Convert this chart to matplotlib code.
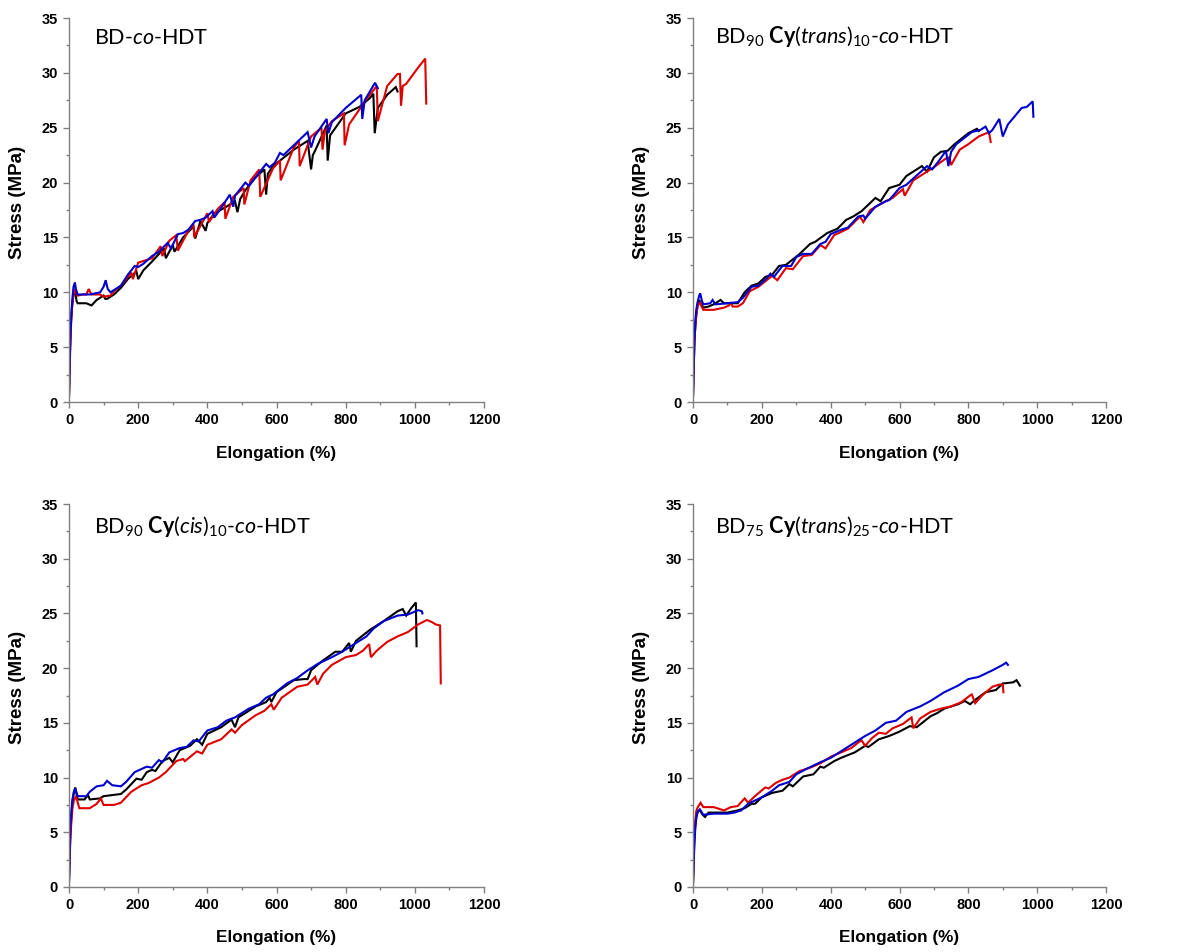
import matplotlib
matplotlib.use("Agg")
import matplotlib.pyplot as plt
from matplotlib.ticker import MultipleLocator
from matplotlib import font_manager

plt.rcParams['mathtext.fontset'] = 'custom'
plt.rcParams['mathtext.rm'] = 'Lato'
plt.rcParams['mathtext.it'] = 'Lato:italic'
plt.rcParams['mathtext.bf'] = 'Lato:bold'

_names = {f.name for f in font_manager.fontManager.ttflist}
if "Liberation Sans Narrow" in _names:
    TICK_FAMILY, TICK_SIZE = "Liberation Sans Narrow", 11
else:
    TICK_FAMILY, TICK_SIZE = "Liberation Sans", 10.5

# ---------------- data ----------------
titles = [r"BD-$\mathit{co}$-HDT",
          r"BD$_{90}$ $\mathbf{Cy}$($\mathit{trans}$)$_{10}$-$\mathit{co}$-HDT",
          r"BD$_{90}$ $\mathbf{Cy}$($\mathit{cis}$)$_{10}$-$\mathit{co}$-HDT",
          r"BD$_{75}$ $\mathbf{Cy}$($\mathit{trans}$)$_{25}$-$\mathit{co}$-HDT"]
x_ticks = [0, 200, 400, 600, 800, 1000, 1200]
y_ticks = [0, 5, 10, 15, 20, 25, 30, 35]
x_label = "Elongation (%)"
y_label = "Stress (MPa)"

# Panel 1: BD-co-HDT
p1_black_x = [0, 2, 4, 6, 9, 12, 15, 18, 22, 25,
              40, 50, 65, 80, 100, 105, 110, 130, 150, 170,
              195, 200, 215, 240, 275, 280, 300, 305, 330, 360,
              365, 380, 395, 400, 420, 450, 480, 487, 495, 510,
              540, 565, 570, 575, 590, 610, 650, 690, 700, 705,
              710, 745, 748, 755, 800, 840, 870, 880, 884, 893,
              920, 945, 950]
p1_black_y = [0.5, 3.5, 6.0, 7.5, 8.8, 9.6, 10.3, 10.0, 9.2, 9.0,
              9.0, 9.0, 8.8, 9.3, 9.7, 9.4, 9.4, 9.8, 10.4, 11.2,
              11.9, 11.2, 12.0, 12.8, 14.0, 13.1, 14.3, 13.7, 15.0, 16.0,
              14.9, 16.5, 15.6, 16.3, 17.2, 17.7, 18.3, 17.3, 18.5, 19.3,
              20.5, 21.2, 18.9, 20.8, 21.5, 22.0, 23.0, 23.8, 21.2, 22.5,
              22.8, 25.2, 22.0, 24.3, 26.3, 26.9, 27.7, 28.1, 24.5, 26.8,
              28.0, 28.7, 28.3]
p1_red_x = [0, 2, 4, 7, 10, 13, 16, 20, 25, 40,
            50, 57, 65, 90, 100, 120, 130, 150, 180, 185,
            200, 240, 265, 270, 290, 310, 315, 345, 360, 362,
            400, 405, 430, 450, 452, 475, 505, 507, 525, 550,
            553, 590, 610, 612, 650, 665, 667, 700, 730, 733,
            740, 760, 795, 797, 810, 860, 890, 893, 920, 950,
            957, 960, 965, 975, 1010, 1030, 1033]
p1_red_y = [0.5, 3.0, 5.5, 7.8, 9.0, 9.8, 10.3, 10.0, 9.7, 9.8,
            9.8, 10.3, 9.8, 9.8, 9.6, 9.7, 10.1, 10.6, 11.8, 11.2,
            12.7, 13.1, 14.2, 13.3, 14.7, 15.2, 13.8, 15.6, 16.2, 15.0,
            17.2, 16.4, 17.6, 18.2, 16.7, 18.7, 19.5, 18.0, 20.2, 21.2,
            18.7, 21.3, 22.0, 20.2, 23.2, 23.8, 21.5, 24.2, 25.0, 23.0,
            24.7, 25.6, 26.3, 23.4, 25.3, 27.6, 28.8, 25.6, 28.8, 29.9,
            29.9, 27.0, 28.8, 29.0, 30.5, 31.3, 27.2]
p1_blue_x = [0, 2, 4, 7, 10, 13, 17, 20, 25, 40,
             60, 90, 100, 106, 112, 120, 150, 170, 190, 200,
             215, 240, 260, 285, 295, 315, 330, 345, 365, 380,
             395, 415, 420, 440, 465, 475, 480, 510, 520, 550,
             570, 580, 595, 610, 620, 650, 690, 700, 710, 745,
             750, 760, 800, 845, 848, 855, 885, 893]
p1_blue_y = [0.5, 3.5, 6.0, 8.0, 9.5, 10.5, 10.9, 10.3, 9.8, 9.8,
             9.8, 10.0, 10.5, 11.1, 10.3, 10.0, 10.6, 11.6, 12.4, 12.3,
             12.6, 13.3, 13.7, 14.5, 14.0, 15.3, 15.4, 15.7, 16.5, 16.6,
             16.8, 17.4, 16.8, 17.7, 18.9, 17.8, 18.8, 20.0, 19.7, 20.9,
             21.7, 21.4, 21.8, 22.7, 22.5, 23.4, 24.6, 23.2, 24.2, 25.8,
             24.5, 25.5, 26.8, 28.0, 25.8, 27.5, 29.1, 28.6]

# Panel 2: BD90 Cy(trans)10-co-HDT
p2_black_x = [0, 2, 4, 7, 10, 14, 18, 22, 30, 45,
              60, 80, 90, 130, 150, 170, 190, 210, 230, 250,
              270, 290, 310, 340, 355, 390, 420, 445, 465, 490,
              530, 545, 570, 600, 620, 665, 680, 700, 720, 740,
              760, 800, 825, 830]
p2_black_y = [0.5, 3.0, 5.5, 7.0, 8.2, 9.0, 9.3, 9.0, 8.6, 8.7,
              8.9, 9.3, 9.0, 9.0, 10.0, 10.6, 10.8, 11.4, 11.6, 12.4,
              12.5, 13.0, 13.5, 14.4, 14.6, 15.4, 15.8, 16.6, 16.9, 17.4,
              18.6, 18.3, 19.5, 19.8, 20.6, 21.5, 21.0, 22.3, 22.8, 22.9,
              23.5, 24.5, 24.9, 24.7]
p2_red_x = [0, 2, 4, 7, 10, 14, 20, 25, 30, 60,
            90, 105, 110, 115, 130, 145, 165, 190, 210, 230,
            245, 270, 290, 320, 345, 370, 385, 410, 450, 485,
            495, 515, 560, 580, 610, 615, 640, 670, 700, 735,
            745, 750, 775, 800, 830, 860, 865]
p2_red_y = [0.5, 3.0, 5.5, 7.0, 8.0, 8.8, 9.1, 8.7, 8.4, 8.4,
            8.6, 8.8, 9.1, 8.7, 8.7, 9.0, 10.1, 10.5, 11.0, 11.5,
            11.1, 12.2, 12.1, 13.3, 13.4, 14.3, 14.0, 15.2, 15.8, 16.9,
            16.4, 17.5, 18.3, 18.6, 19.4, 18.8, 20.2, 20.8, 21.4, 22.2,
            22.3, 21.6, 23.0, 23.5, 24.2, 24.6, 23.7]
p2_blue_x = [0, 2, 4, 7, 10, 14, 18, 21, 26, 30,
             50, 57, 65, 100, 130, 145, 170, 190, 215, 225,
             235, 260, 285, 300, 320, 345, 370, 385, 400, 430,
             450, 480, 495, 500, 530, 560, 570, 600, 620, 680,
             695, 715, 735, 742, 750, 765, 810, 835, 850, 860,
             870, 890, 900, 915, 955, 970, 987, 989]
p2_blue_y = [0.5, 3.0, 5.5, 7.5, 8.5, 9.2, 9.7, 9.9, 9.2, 8.9,
             9.0, 9.3, 8.9, 9.0, 9.1, 9.5, 10.5, 10.6, 11.3, 11.7,
             11.4, 12.4, 12.4, 13.2, 13.5, 13.5, 14.4, 14.6, 15.3, 15.7,
             15.9, 16.9, 17.0, 16.7, 17.8, 18.3, 18.4, 19.5, 19.8, 21.5,
             21.2, 22.0, 22.9, 21.5, 22.8, 23.5, 24.6, 24.8, 25.1, 24.5,
             24.8, 25.8, 24.2, 25.3, 26.8, 26.9, 27.4, 26.0]

# Panel 3: BD90 Cy(cis)10-co-HDT
p3_black_x = [0, 2, 4, 7, 10, 14, 18, 25, 45, 55,
              60, 90, 100, 150, 165, 195, 210, 225, 240, 250,
              270, 290, 300, 320, 350, 370, 385, 400, 440, 470,
              480, 490, 540, 570, 580, 585, 600, 650, 680, 690,
              700, 730, 770, 790, 810, 815, 830, 870, 910, 950,
              965, 975, 990, 1003, 1005]
p3_black_y = [0.5, 3.0, 5.0, 6.5, 7.8, 8.6, 9.1, 8.0, 8.0, 8.4,
              8.0, 8.1, 8.3, 8.5, 8.9, 9.9, 9.8, 10.5, 10.7, 10.6,
              11.5, 11.8, 11.4, 12.5, 12.9, 13.5, 13.0, 14.0, 14.6, 15.3,
              14.6, 15.5, 16.5, 16.9, 17.3, 16.9, 17.8, 18.9, 19.0, 19.0,
              19.8, 20.6, 21.5, 21.5, 22.3, 21.5, 22.5, 23.5, 24.3, 25.2,
              25.4, 24.8, 25.5, 26.0, 22.0]
p3_red_x = [0, 2, 4, 7, 10, 14, 20, 30, 60, 80,
            92, 100, 130, 150, 180, 210, 230, 260, 280, 310,
            330, 335, 370, 385, 400, 440, 470, 480, 500, 540,
            565, 585, 592, 615, 660, 690, 712, 718, 735, 760,
            800, 830, 850, 868, 873, 890, 920, 950, 980, 1010,
            1035, 1050, 1060, 1073, 1075]
p3_red_y = [0.5, 2.5, 4.5, 6.0, 7.2, 7.9, 8.3, 7.2, 7.2, 7.6,
            8.1, 7.5, 7.5, 7.7, 8.7, 9.3, 9.5, 10.0, 10.5, 11.5,
            11.7, 11.5, 12.4, 12.2, 13.0, 13.5, 14.4, 14.1, 14.8, 15.7,
            16.1, 16.7, 16.2, 17.3, 18.3, 18.5, 19.2, 18.5, 19.5, 20.3,
            21.0, 21.2, 21.6, 22.2, 21.0, 21.6, 22.4, 22.9, 23.3, 24.0,
            24.4, 24.2, 24.0, 23.9, 18.6]
p3_blue_x = [0, 2, 4, 7, 10, 14, 18, 25, 50, 60,
             80, 100, 110, 125, 150, 165, 190, 225, 240, 260,
             270, 290, 320, 340, 360, 375, 400, 430, 455, 480,
             520, 550, 570, 590, 630, 660, 690, 720, 760, 790,
             815, 860, 880, 910, 950, 980, 1010, 1020, 1022]
p3_blue_y = [0.5, 3.0, 5.5, 7.0, 8.0, 8.7, 9.0, 8.3, 8.3, 8.7,
             9.2, 9.3, 9.7, 9.3, 9.2, 9.6, 10.5, 11.0, 10.9, 11.6,
             11.4, 12.3, 12.7, 12.8, 13.4, 13.3, 14.3, 14.6, 15.2, 15.5,
             16.3, 16.7, 17.3, 17.6, 18.6, 19.1, 19.8, 20.4, 21.0, 21.5,
             22.0, 22.9, 23.6, 24.3, 24.8, 24.9, 25.3, 25.2, 25.0]

# Panel 4: BD75 Cy(trans)25-co-HDT
p4_black_x = [0, 2, 4, 7, 10, 14, 20, 28, 35, 45,
              100, 130, 150, 170, 180, 200, 230, 260, 280, 290,
              320, 350, 370, 380, 410, 430, 470, 500, 510, 540,
              570, 600, 630, 650, 670, 690, 710, 730, 770, 790,
              805, 820, 850, 880, 900, 930, 940, 950]
p4_black_y = [0.3, 2.5, 4.5, 5.8, 6.5, 6.9, 7.0, 6.6, 6.4, 6.8,
              6.8, 7.0, 7.2, 7.6, 7.6, 8.2, 8.6, 8.8, 9.4, 9.2,
              10.1, 10.3, 11.0, 10.9, 11.5, 11.8, 12.3, 12.9, 12.8, 13.5,
              13.8, 14.2, 14.7, 14.6, 15.1, 15.6, 15.9, 16.3, 16.7, 17.0,
              16.7, 17.1, 17.8, 18.0, 18.6, 18.7, 18.9, 18.4]
p4_red_x = [0, 2, 4, 7, 10, 14, 18, 22, 30, 60,
            90, 110, 130, 150, 160, 180, 210, 220, 240, 260,
            280, 310, 340, 370, 400, 430, 460, 480, 490, 500,
            520, 540, 560, 580, 610, 635, 640, 660, 690, 720,
            750, 780, 805, 810, 820, 840, 870, 890, 900, 902]
p4_red_y = [0.3, 2.5, 4.8, 6.2, 7.0, 7.3, 7.5, 7.7, 7.3, 7.3,
            7.0, 7.3, 7.4, 8.1, 7.7, 8.3, 9.1, 9.0, 9.5, 9.8,
            10.0, 10.6, 10.9, 11.3, 11.9, 12.3, 12.7, 13.2, 13.4, 12.9,
            13.6, 14.1, 14.0, 14.5, 14.9, 15.5, 14.5, 15.4, 16.0, 16.3,
            16.5, 16.9, 17.5, 17.6, 16.8, 17.5, 18.3, 18.5, 18.5, 17.8]
p4_blue_x = [0, 2, 4, 7, 10, 14, 20, 30, 60, 100,
             120, 140, 160, 200, 230, 250, 280, 300, 330, 370,
             400, 440, 470, 500, 530, 560, 590, 620, 660, 690,
             730, 770, 800, 830, 870, 900, 910, 915]
p4_blue_y = [0.3, 2.0, 4.0, 5.5, 6.4, 6.9, 7.1, 6.6, 6.7, 6.7,
             6.8, 7.0, 7.6, 8.2, 8.8, 9.3, 9.6, 10.3, 10.8, 11.4,
             11.8, 12.6, 13.2, 13.8, 14.3, 15.0, 15.2, 16.0, 16.5, 17.0,
             17.8, 18.4, 19.0, 19.2, 19.8, 20.3, 20.5, 20.3]

panels = [
    [(p1_black_x, p1_black_y), (p1_red_x, p1_red_y), (p1_blue_x, p1_blue_y)],
    [(p2_black_x, p2_black_y), (p2_red_x, p2_red_y), (p2_blue_x, p2_blue_y)],
    [(p3_black_x, p3_black_y), (p3_red_x, p3_red_y), (p3_blue_x, p3_blue_y)],
    [(p4_black_x, p4_black_y), (p4_red_x, p4_red_y), (p4_blue_x, p4_blue_y)],
]
colors = ["#000000", "#dd0000", "#0000cc"]

# ---------------- layout ----------------
W, H = 1203, 952
fig = plt.figure(figsize=(W / 100, H / 100), dpi=100)
# axes boxes in pixels: left, right, top(y of 35), bottom(y of 0)
boxes = [(69, 484, 18, 402), (693, 1106, 18, 402),
         (69, 484, 504, 887), (693, 1106, 504, 887)]
title_pos = [(0.06, 0.932), (0.053, 0.935), (0.06, 0.924), (0.053, 0.924)]

spine_col = "#808080"

for i, (l, r, t, b) in enumerate(boxes):
    ax = fig.add_axes([l / W, 1 - b / H, (r - l) / W, (b - t) / H])
    for (xs, ys), c in zip(panels[i], colors):
        ax.plot(xs, ys, color=c, lw=1.5, solid_joinstyle="miter")
    ax.set_xlim(0, 1200)
    ax.set_ylim(0, 35)
    ax.set_xticks(x_ticks)
    ax.set_yticks(y_ticks)
    ax.xaxis.set_minor_locator(MultipleLocator(100))
    ax.yaxis.set_minor_locator(MultipleLocator(2.5))
    for s in ("top", "right"):
        ax.spines[s].set_visible(False)
    for s in ("left", "bottom"):
        ax.spines[s].set_color(spine_col)
        ax.spines[s].set_linewidth(1.0)
    ax.tick_params(which="major", direction="out", length=4, width=1.0,
                   color=spine_col, pad=4)
    ax.tick_params(which="minor", direction="out", length=2.5, width=1.0,
                   color=spine_col)
    for lab in ax.get_xticklabels() + ax.get_yticklabels():
        lab.set_fontfamily(TICK_FAMILY)
        lab.set_fontweight("bold")
        lab.set_fontsize(TICK_SIZE)
    ax.set_xlabel(x_label, family="Liberation Sans", weight="bold",
                  fontsize=12.3, va="center")
    ax.set_ylabel(y_label, family="Liberation Sans", weight="bold",
                  fontsize=13.5, va="center")
    ax.xaxis.set_label_coords(0.5, -0.133)
    ax.yaxis.set_label_coords(-0.125, 0.52)
    tx, ty = title_pos[i]
    ax.text(tx, ty, titles[i], transform=ax.transAxes, family="Lato",
            fontsize=15.5, va="baseline", ha="left")

fig.savefig("out.png", dpi=100)
